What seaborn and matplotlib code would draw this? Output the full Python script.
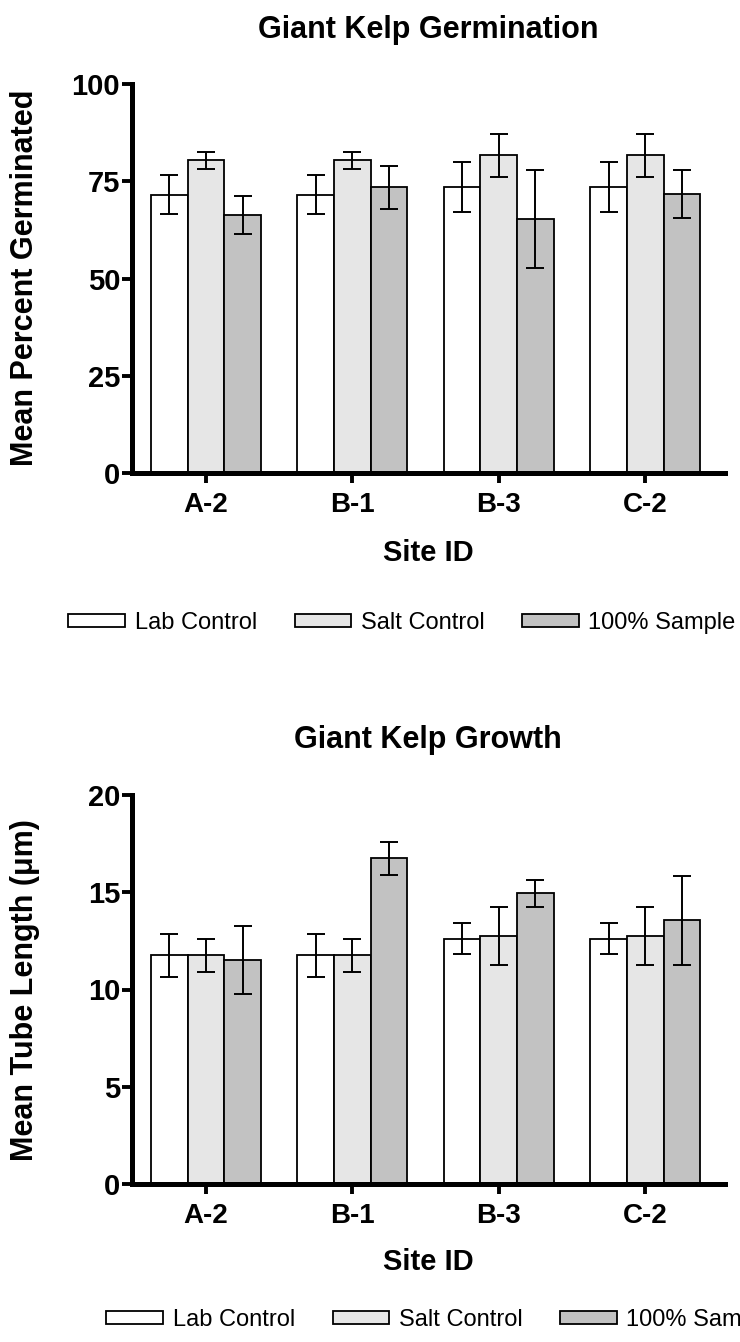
import matplotlib
matplotlib.use("Agg")
import matplotlib.pyplot as plt
import seaborn as sns
import pandas as pd

# Site IDs and treatment groups
sites = ["A-2", "B-1", "B-3", "C-2"]
treatments = ["Lab Control", "Salt Control", "100% Sample"]

# Germination (mean percent) and error
germ_lab = [71.5, 71.5, 73.5, 73.5]
germ_lab_err = [5.0, 5.0, 6.4, 6.4]
germ_salt = [80.4, 80.4, 81.7, 81.7]
germ_salt_err = [2.2, 2.2, 5.5, 5.5]
germ_sample = [66.4, 73.4, 65.4, 71.8]
germ_sample_err = [4.9, 5.6, 12.6, 6.2]

# Growth (mean tube length, um) and error
grow_lab = [11.75, 11.75, 12.6, 12.6]
grow_lab_err = [1.1, 1.1, 0.8, 0.8]
grow_salt = [11.75, 11.75, 12.75, 12.75]
grow_salt_err = [0.85, 0.85, 1.5, 1.5]
grow_sample = [11.5, 16.75, 14.95, 13.55]
grow_sample_err = [1.75, 0.85, 0.7, 2.3]

germ_ticks = [0, 25, 50, 75, 100]
grow_ticks = [0, 5, 10, 15, 20]

sns.set_theme(style="ticks")
plt.rcParams["font.family"] = ["Liberation Sans", "DejaVu Sans"]
for key in ("text.color", "axes.labelcolor", "xtick.color", "ytick.color",
            "axes.edgecolor"):
    plt.rcParams[key] = "black"

palette = {"Lab Control": "#ffffff", "Salt Control": "#e6e6e6", "100% Sample": "#c2c2c2"}

W, H = 740, 1342
fig = plt.figure(figsize=(W / 100, H / 100), dpi=100)
fig.patch.set_facecolor("white")


def draw_panel(ax, means, errs, ticks):
    rows = []
    for t, vals, es in zip(treatments, means, errs):
        for s, v, e in zip(sites, vals, es):
            rows.append({"site": s, "treatment": t, "mean": v, "err": e})
    df = pd.DataFrame(rows)
    sns.barplot(data=df, x="site", y="mean", hue="treatment", order=sites,
                hue_order=treatments, palette=palette, edgecolor="black",
                linewidth=1.3, width=0.75, gap=0, errorbar=None, legend=True,
                ax=ax, zorder=2)
    for cont, t in zip(ax.containers, treatments):
        sub = df[df.treatment == t].set_index("site").loc[sites]
        xs = [p.get_x() + p.get_width() / 2 for p in cont.patches]
        ax.errorbar(xs, sub["mean"].values, yerr=sub["err"].values, fmt="none",
                    ecolor="black", elinewidth=1.4, capsize=6.5, capthick=1.4,
                    zorder=3)
    ax.set_ylim(ticks[0], ticks[-1])
    ax.set_xlim(-0.505, 3.545)
    ax.set_yticks(ticks)
    ax.set_yticklabels([str(t) for t in ticks], fontsize=21, fontweight="bold")
    ax.set_xticks(range(len(sites)))
    ax.set_xticklabels(sites, fontsize=20, fontweight="bold")
    ax.set_xlabel("")
    ax.set_ylabel("")
    sns.despine(ax=ax)
    for side in ("left", "bottom"):
        ax.spines[side].set_linewidth(3.6)
        ax.spines[side].set_color("black")
    ax.tick_params(axis="both", width=2.8, length=7.5, color="black", pad=1)
    ax.tick_params(axis="x", pad=6)
    ax.set_facecolor("white")
    ax.grid(False)
    handles, labels = ax.get_legend_handles_labels()
    ax.get_legend().remove()
    return handles, labels


ax1 = fig.add_axes([132 / W, 1 - 473 / H, (725 - 132) / W, (473 - 84) / H])
ax2 = fig.add_axes([132 / W, 1 - 1184 / H, (725 - 132) / W, (1184 - 795) / H])

h1, l1 = draw_panel(ax1, [germ_lab, germ_salt, germ_sample],
                    [germ_lab_err, germ_salt_err, germ_sample_err], germ_ticks)
h2, l2 = draw_panel(ax2, [grow_lab, grow_salt, grow_sample],
                    [grow_lab_err, grow_salt_err, grow_sample_err], grow_ticks)

title_kw = dict(fontsize=22, fontweight="bold", ha="center", va="center")
fig.text(428 / W, 1 - 30 / H, "Giant Kelp Germination", **title_kw)
fig.text(428 / W, 1 - 740 / H, "Giant Kelp Growth", **title_kw)

lab_kw = dict(fontsize=21, fontweight="bold", ha="center", va="center")
fig.text(428 / W, 1 - 553 / H, "Site ID", **lab_kw)
fig.text(428 / W, 1 - 1262 / H, "Site ID", **lab_kw)
ylab_kw = dict(fontsize=22, fontweight="bold", ha="center", va="center",
               rotation=90)
fig.text(25 / W, 1 - 278 / H, "Mean Percent Germinated", **ylab_kw)
fig.text(25 / W, 1 - 990 / H, "Mean Tube Length (\u03bcm)", **ylab_kw)

leg_kw = dict(ncol=3, frameon=False, fontsize=17, handlelength=2.4,
              handleheight=0.5, handletextpad=0.4, columnspacing=1.6,
              borderaxespad=0, borderpad=0, loc="center")
fig.legend(h1, l1, bbox_to_anchor=(402 / W, 1 - 623 / H), **leg_kw)
fig.legend(h2, l2, bbox_to_anchor=(440 / W, 1 - 1320 / H), **leg_kw)

fig.savefig("out.png", dpi=100, facecolor="white")
